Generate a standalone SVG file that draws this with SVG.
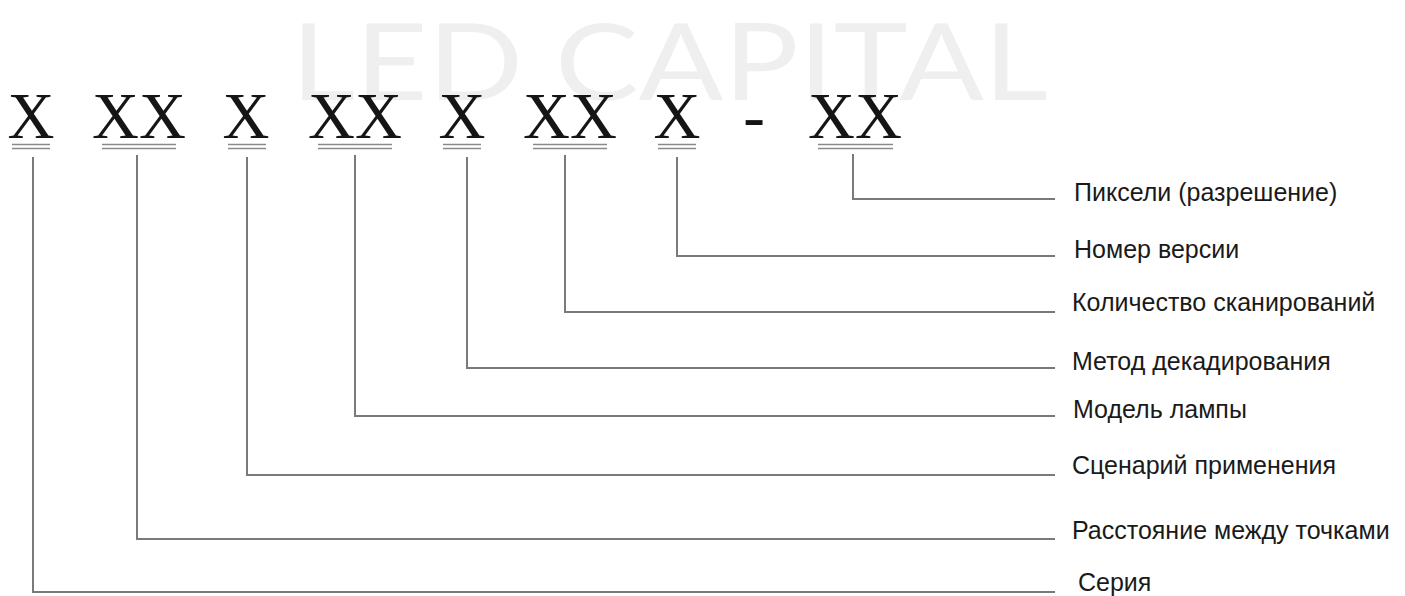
<svg xmlns="http://www.w3.org/2000/svg" width="1405" height="596" viewBox="0 0 1405 596">
<style>
.wm{font-family:Lato,"Liberation Sans",sans-serif;font-size:107px;fill:#efefef}
.code{font-family:"Liberation Serif",serif;font-size:65px;fill:#151515;text-anchor:middle}
.ul{stroke:#8a8a8a;stroke-width:1.6;fill:none}
.conn{stroke:#7a7a7a;stroke-width:2;fill:none}
.lbl{font-family:"Liberation Sans",Arial,sans-serif;font-size:25px;fill:#1a1a1a}
</style>
<rect width="1405" height="596" fill="#ffffff"/>
<text class="wm" x="291" y="100" textLength="757" lengthAdjust="spacingAndGlyphs">LED CAPITAL</text>
<g id="code">
<g id="c1"><text class="code" x="31" y="138">X</text><path class="ul" d="M12 144.5H50M12 148.5H50"/></g>
<g id="c2"><text class="code" x="139" y="138">XX</text><path class="ul" d="M102 144.5H176M102 148.5H176"/></g>
<g id="c3"><text class="code" x="246" y="138">X</text><path class="ul" d="M228 144.5H266M228 148.5H266"/></g>
<g id="c4"><text class="code" x="355" y="138">XX</text><path class="ul" d="M318 144.5H392M318 148.5H392"/></g>
<g id="c5"><text class="code" x="462" y="138">X</text><path class="ul" d="M443 144.5H481M443 148.5H481"/></g>
<g id="c6"><text class="code" x="570" y="138">XX</text><path class="ul" d="M533 144.5H607M533 148.5H607"/></g>
<g id="c7"><text class="code" x="677" y="138">X</text><path class="ul" d="M658 144.5H696M658 148.5H696"/></g>
<g id="dash"><text class="code" x="754" y="138">-</text></g>
<g id="c8"><text class="code" x="855" y="138">XX</text><path class="ul" d="M818 144.5H893M818 148.5H893"/></g>
</g>
<g id="connectors">
<path class="conn" d="M853 154V199H1055"/>
<path class="conn" d="M677 157V256H1055"/>
<path class="conn" d="M565 155V312H1055"/>
<path class="conn" d="M467 157V368H1055"/>
<path class="conn" d="M355 155V416H1055"/>
<path class="conn" d="M247 157V475H1055"/>
<path class="conn" d="M137 155V539H1055"/>
<path class="conn" d="M33 157V592H1055"/>
</g>
<g id="labels">
<g id="l1"><text class="lbl" x="1074" y="201">Пиксели (разрешение)</text></g>
<g id="l2"><text class="lbl" x="1074" y="258">Номер версии</text></g>
<g id="l3"><text class="lbl" x="1072" y="311">Количество сканирований</text></g>
<g id="l4"><text class="lbl" x="1072" y="370">Метод декадирования</text></g>
<g id="l5"><text class="lbl" x="1073" y="418">Модель лампы</text></g>
<g id="l6"><text class="lbl" x="1072" y="474">Сценарий применения</text></g>
<g id="l7"><text class="lbl" x="1072" y="539">Расстояние между точками</text></g>
<g id="l8"><text class="lbl" x="1078" y="591">Серия</text></g>
</g>
</svg>
